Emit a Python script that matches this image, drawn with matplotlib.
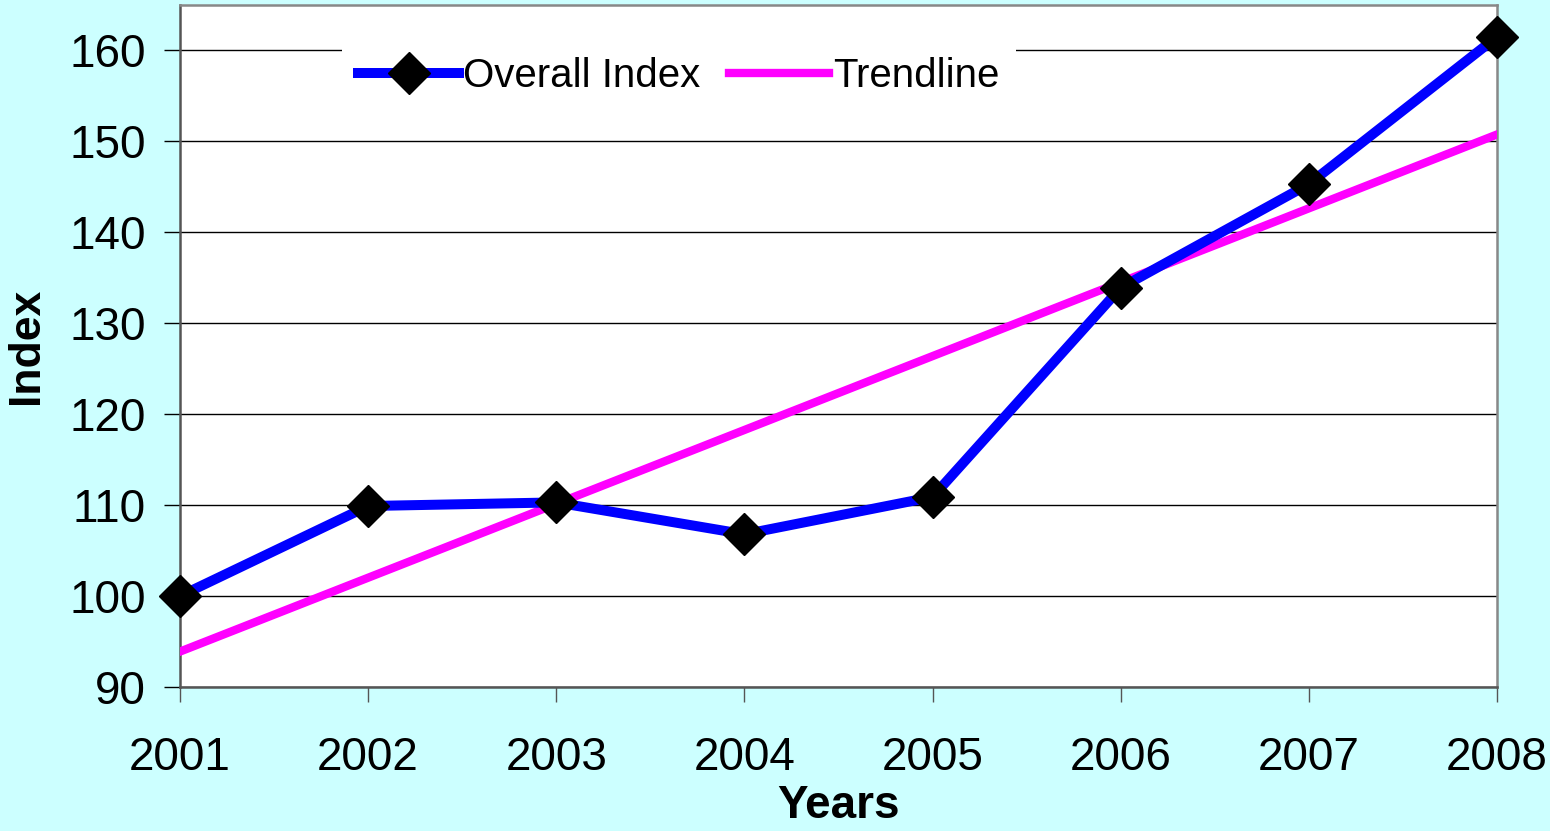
import numpy as np
import matplotlib
matplotlib.use('Agg')
import matplotlib.pyplot as plt

years = [2001, 2002, 2003, 2004, 2005, 2006, 2007, 2008]
overall_index = [100.0, 109.9, 110.3, 106.8, 110.9, 133.9, 145.3, 161.5]
y_ticks = [90, 100, 110, 120, 130, 140, 150, 160]

plt.rcParams['font.family'] = ['Liberation Sans', 'DejaVu Sans']

# linear trendline fitted to the index values
coef = np.polyfit(years, overall_index, 1)
trend = np.polyval(coef, years)

fig = plt.figure(figsize=(15.5, 8.31), dpi=100, facecolor='#ccffff')
ax = fig.add_axes([0.1161, 0.1733, 0.8497, 0.8207])
ax.set_facecolor('white')

ax.plot(years, overall_index, color='#0000ff', lw=7.2, marker='D', ms=21,
        mfc='black', mec='black', label='Overall Index', clip_on=False, zorder=4)
ax.plot(years, trend, color='#ff00ff', lw=6, label='Trendline', zorder=3)

ax.set_xlim(2001, 2008)
ax.set_ylim(90, 165)
ax.set_xticks(years)
ax.set_yticks(y_ticks)
ax.yaxis.grid(True, color='black', lw=1)
ax.set_axisbelow(True)

for side in ['left', 'bottom']:
    ax.spines[side].set_color('#555555')
    ax.spines[side].set_linewidth(1.8)
for side in ['top', 'right']:
    ax.spines[side].set_color('#888888')
    ax.spines[side].set_linewidth(1.8)

ax.tick_params(axis='y', direction='out', length=11.5, width=1, color='black',
               labelsize=33, pad=13)
ax.tick_params(axis='x', direction='out', length=11, width=1, color='#555555',
               labelsize=33, pad=24)

ax.set_ylabel('Index', fontsize=32, fontweight='bold', labelpad=16)
ax.set_xlabel('Years', fontsize=33, fontweight='bold', labelpad=3)

leg = ax.legend(loc='center', bbox_to_anchor=(0.379, 0.896), ncol=2,
                fontsize=29, frameon=True, facecolor='white', edgecolor='none',
                framealpha=1, fancybox=False, handlelength=2.5,
                handletextpad=0.1, columnspacing=0.7, borderpad=0.4)

fig.savefig('out.png', dpi=100, facecolor=fig.get_facecolor())
